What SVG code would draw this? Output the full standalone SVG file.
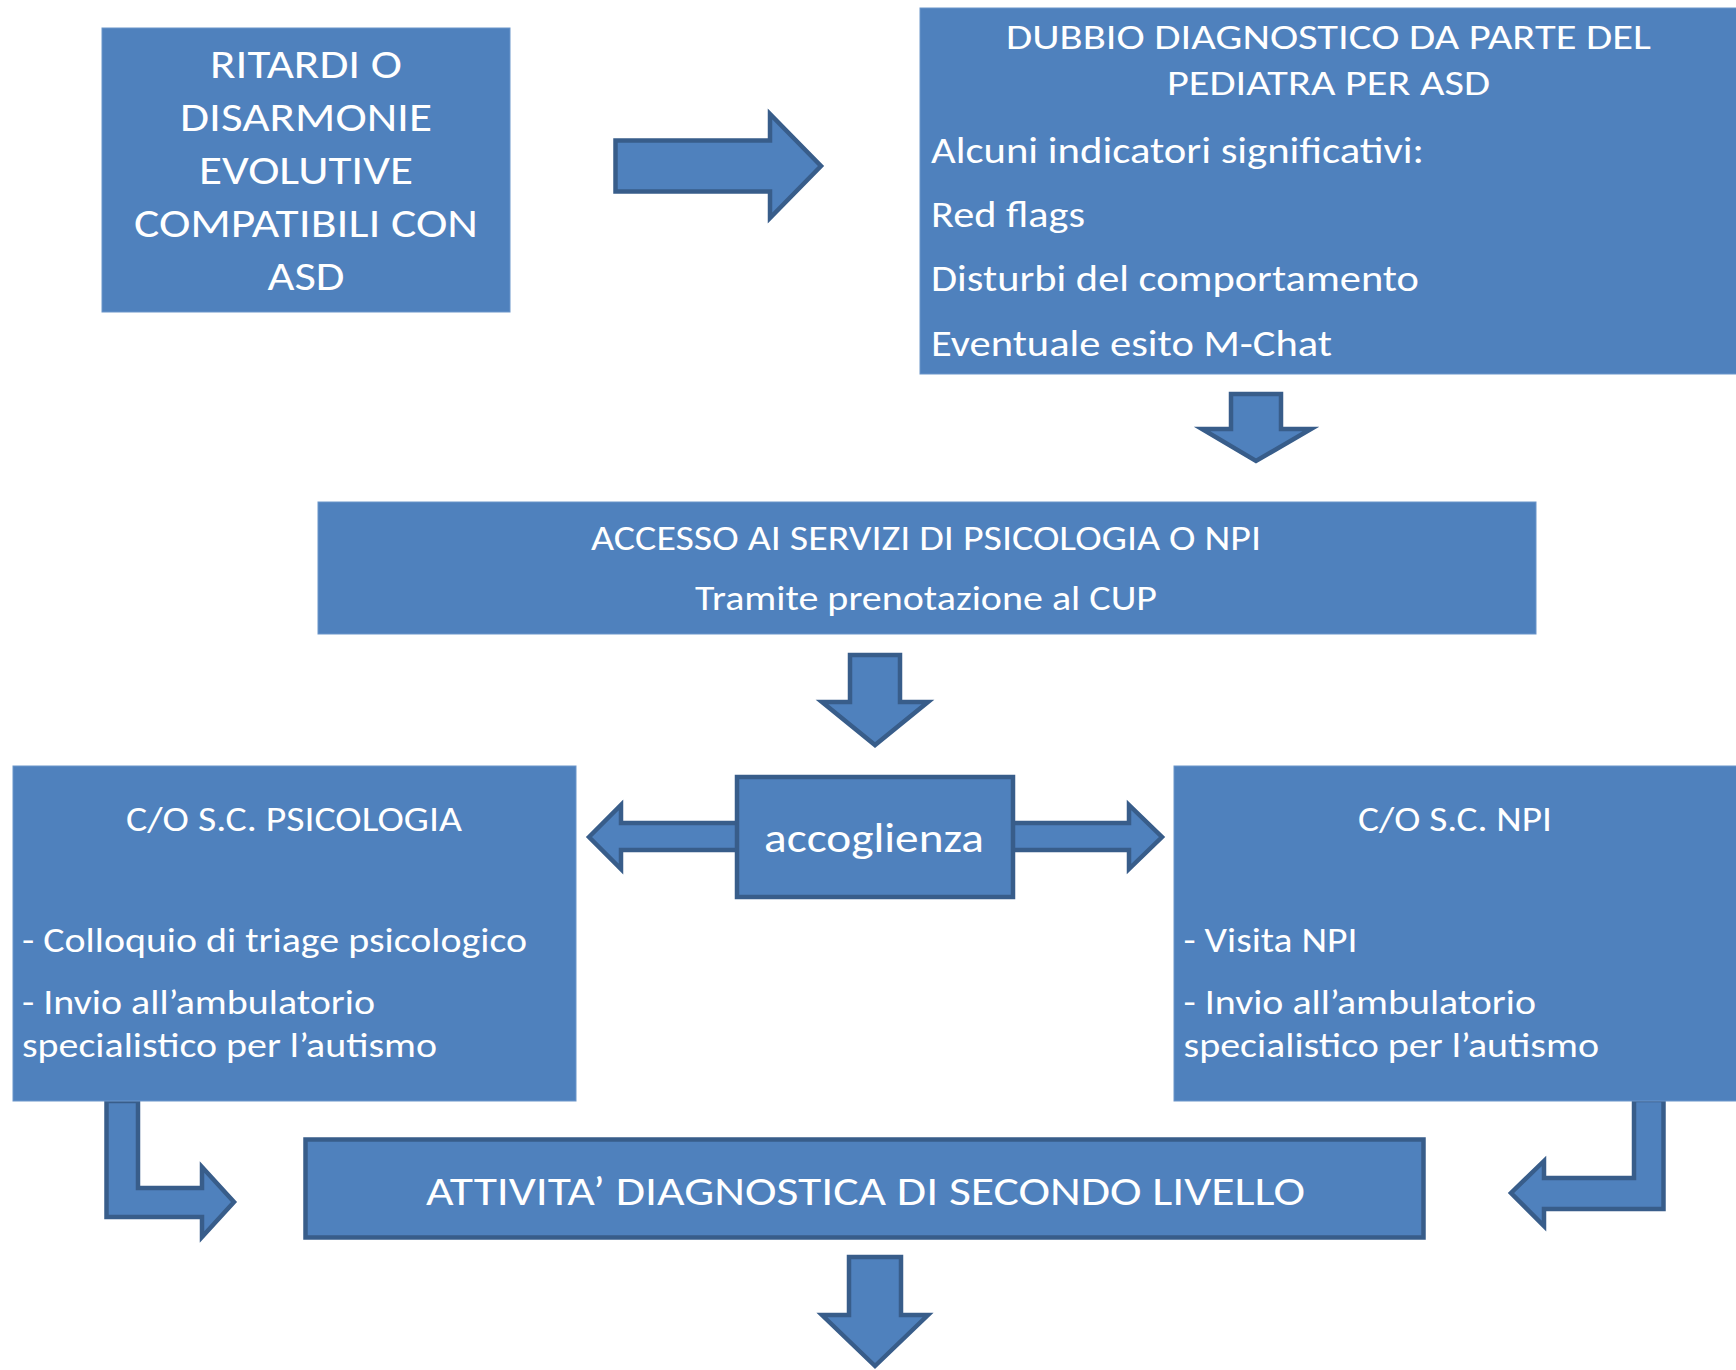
<svg xmlns="http://www.w3.org/2000/svg" width="1736" height="1370" viewBox="0 0 1736 1370">
<style>
.box{fill:#4F81BD;stroke:#6A95CA;stroke-width:1}
.sbox{fill:#4F81BD;stroke:#385D8A;stroke-width:4.5;stroke-linejoin:miter}
.arr{fill:#4F81BD;stroke:#385D8A;stroke-width:4.5;stroke-linejoin:miter}
text{fill:#FFFFFF;font-family:Carlito,Lato,"Liberation Sans",sans-serif}
.c{text-anchor:middle}
.h36{font-size:35px}
.h41{font-size:41px}
.b37{font-size:37px}
</style>
<rect x="0" y="0" width="1736" height="1370" fill="#FFFFFF"/>

<g id="connectors">
  <path id="arrow-right-top" class="arr" d="M615.5,140.5 L770,140.5 L770,114 L821,166 L770,218 L770,191.5 L615.5,191.5 Z"/>
  <path id="arrow-down-1" class="arr" d="M1231,394 L1281,394 L1281,429 L1311,429 L1256,461 L1202,429 L1231,429 Z"/>
  <path id="arrow-down-2" class="arr" d="M850,655 L900,655 L900,702 L928,702 L875,745 L822,702 L850,702 Z"/>
  <path id="arrow-double" class="arr" d="M589,837 L621,805 L621,823 L1129,823 L1129,805 L1162,837 L1129,869 L1129,850 L621,850 L621,869 Z"/>
  <path id="arrow-bent-left" class="arr" d="M106.5,1101 L138,1101 L138,1188 L202,1188 L202,1167 L234,1202 L202,1237 L202,1217 L106.5,1217 Z"/>
  <path id="arrow-bent-right" class="arr" d="M1663.5,1100 L1634,1100 L1634,1178 L1544,1178 L1544,1161 L1511,1193 L1544,1226 L1544,1209 L1663.5,1209 Z"/>
  <path id="arrow-down-3" class="arr" d="M849,1257 L901,1257 L901,1315 L928,1315 L875,1366 L822,1315 L849,1315 Z"/>
</g>

<g id="node-ritardi">
  <rect class="box" x="102" y="28" width="408" height="284"/>
  <text class="c h41" x="306" y="77.5" textLength="192" lengthAdjust="spacingAndGlyphs">RITARDI O</text>
  <text class="c h41" x="306" y="130.5" textLength="252" lengthAdjust="spacingAndGlyphs">DISARMONIE</text>
  <text class="c h41" x="306" y="183.5" textLength="214" lengthAdjust="spacingAndGlyphs">EVOLUTIVE</text>
  <text class="c h41" x="306" y="236.5" textLength="344" lengthAdjust="spacingAndGlyphs">COMPATIBILI CON</text>
  <text class="c h41" x="306" y="289.5" textLength="77" lengthAdjust="spacingAndGlyphs">ASD</text>
</g>

<g id="node-dubbio">
  <rect class="box" x="920" y="8" width="820" height="366"/>
  <text class="c h36" x="1328.5" y="49" textLength="645" lengthAdjust="spacingAndGlyphs">DUBBIO DIAGNOSTICO DA PARTE DEL</text>
  <text class="c h36" x="1328.5" y="95" textLength="323" lengthAdjust="spacingAndGlyphs">PEDIATRA PER ASD</text>
  <text class="b37" x="931" y="162.5" textLength="493" lengthAdjust="spacingAndGlyphs">Alcuni indicatori significativi:</text>
  <text class="b37" x="931" y="227" textLength="154" lengthAdjust="spacingAndGlyphs">Red flags</text>
  <text class="b37" x="931" y="290.5" textLength="488" lengthAdjust="spacingAndGlyphs">Disturbi del comportamento</text>
  <text class="b37" x="931" y="356" textLength="401" lengthAdjust="spacingAndGlyphs">Eventuale esito M-Chat</text>
</g>

<g id="node-accesso">
  <rect class="box" x="318" y="502" width="1218" height="132"/>
  <text class="c h36" x="926" y="549.5" textLength="670" lengthAdjust="spacingAndGlyphs">ACCESSO AI SERVIZI DI PSICOLOGIA O NPI</text>
  <text class="c h36" x="926" y="609.5" textLength="462" lengthAdjust="spacingAndGlyphs">Tramite prenotazione al CUP</text>
</g>

<g id="node-psicologia">
  <rect class="box" x="13" y="766" width="563" height="335"/>
  <text class="c h36" x="294" y="831" textLength="336" lengthAdjust="spacingAndGlyphs">C/O S.C. PSICOLOGIA</text>
  <text class="h36" x="22" y="952" textLength="505" lengthAdjust="spacingAndGlyphs">- Colloquio di triage psicologico</text>
  <text class="h36" x="22" y="1013.5" textLength="353" lengthAdjust="spacingAndGlyphs">- Invio all’ambulatorio</text>
  <text class="h36" x="22" y="1057" textLength="415" lengthAdjust="spacingAndGlyphs">specialistico per l’autismo</text>
</g>

<g id="node-accoglienza">
  <rect class="sbox" x="737" y="777" width="276" height="120"/>
  <text class="c h41" x="874" y="852" textLength="220" lengthAdjust="spacingAndGlyphs">accoglienza</text>
</g>

<g id="node-npi">
  <rect class="box" x="1174" y="766" width="566" height="335"/>
  <text class="c h36" x="1455" y="831" textLength="194" lengthAdjust="spacingAndGlyphs">C/O S.C. NPI</text>
  <text class="h36" x="1183.5" y="952" textLength="174" lengthAdjust="spacingAndGlyphs">- Visita NPI</text>
  <text class="h36" x="1183.5" y="1013.5" textLength="352.5" lengthAdjust="spacingAndGlyphs">- Invio all’ambulatorio</text>
  <text class="h36" x="1183.5" y="1057" textLength="415.5" lengthAdjust="spacingAndGlyphs">specialistico per l’autismo</text>
</g>

<g id="node-attivita">
  <rect class="sbox" x="305.5" y="1139.5" width="1118" height="98"/>
  <text class="c h41" x="865.5" y="1204.5" textLength="879" lengthAdjust="spacingAndGlyphs">ATTIVITA’ DIAGNOSTICA DI SECONDO LIVELLO</text>
</g>
</svg>
